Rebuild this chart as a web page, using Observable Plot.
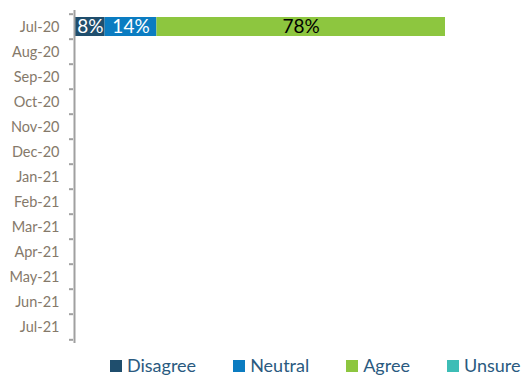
<!DOCTYPE html>
<html>
<head>
<meta charset="utf-8">
<script src="https://cdn.jsdelivr.net/npm/d3@7"></script>
<script src="https://cdn.jsdelivr.net/npm/@observablehq/plot@0.6"></script>
<style>
  html, body { margin: 0; padding: 0; background: #fff; }
  #wrap { position: relative; width: 525px; height: 376px; overflow: hidden; font-family: Lato, sans-serif; }
  #legend { position: absolute; left: 110px; top: 355px; display: flex; align-items: center; white-space: nowrap; }
  .item { display: flex; align-items: center; margin-right: 37px; font-size: 18px; line-height: 20px; color: #2a5a80; }
  .sw { width: 12px; height: 12px; margin-right: 5px; margin-top: 2px; }
</style>
</head>
<body>
<div id="wrap"><div id="chart"></div><div id="legend"></div></div>
<script>
const months = ["Jul-20","Aug-20","Sep-20","Oct-20","Nov-20","Dec-20","Jan-21","Feb-21","Mar-21","Apr-21","May-21","Jun-21","Jul-21"];
const categories = ["Disagree","Neutral","Agree","Unsure"];
const colors = ["#1f4e6d","#0b7cc1","#8dc63f","#3dbdb6"];
const surveyMonths = ["Jul-20","Jul-20","Jul-20"];
const surveyCategories = ["Disagree","Neutral","Agree"];
const surveyValues = [8, 14, 78];

const rows = surveyValues.map((v, i) => ({month: surveyMonths[i], category: surveyCategories[i], value: v}));

const W = 525, H = 356, mt = 10, mb = 13, ml = 75, mr = 80;
const step = (H - mt - mb) / months.length;

const stackOpts = {x: "value", y: "month", z: "category", order: categories};

const chart = Plot.plot({
  width: W, height: H,
  marginTop: mt, marginBottom: mb, marginLeft: ml, marginRight: mr,
  style: {fontFamily: "Lato, sans-serif", background: "#fff"},
  x: {domain: [0, 100], axis: null},
  y: {domain: months, paddingInner: 0.25, paddingOuter: 0.125, axis: null},
  color: {domain: categories, range: colors},
  marks: [
    Plot.barX(rows, Plot.stackX({...stackOpts, fill: "category"})),
    Plot.textX(rows, Plot.stackX({...stackOpts, text: d => d.category === "Agree" ? null : d.value + "%", fill: "white", fontSize: 19})),
    Plot.textX(rows, Plot.stackX({...stackOpts, text: d => d.category === "Agree" ? d.value + "%" : null, fill: "black", fontSize: 19})),
    Plot.ruleX([0], {dx: -1, stroke: "#a0a0a0", strokeWidth: 2}),
    Plot.axisY({fill: "none", tickSize: 4, dx: -2, dy: -step / 2, stroke: "#a0a0a0", strokeWidth: 2, label: null}),
    Plot.axisY([months[months.length - 1]], {fill: "none", tickSize: 4, dx: -2, dy: step / 2, stroke: "#a0a0a0", strokeWidth: 2, label: null}),
    Plot.axisY({tickSize: 0, tickPadding: 16, fontSize: 14.5, fill: "#85796a", label: null})
  ]
});
document.getElementById("chart").appendChild(chart);

const legend = document.getElementById("legend");
categories.forEach((c, i) => {
  const item = document.createElement("div");
  item.className = "item";
  const sw = document.createElement("div");
  sw.className = "sw";
  sw.style.background = colors[i];
  const t = document.createElement("span");
  t.textContent = c;
  item.appendChild(sw);
  item.appendChild(t);
  legend.appendChild(item);
});
</script>
</body>
</html>
